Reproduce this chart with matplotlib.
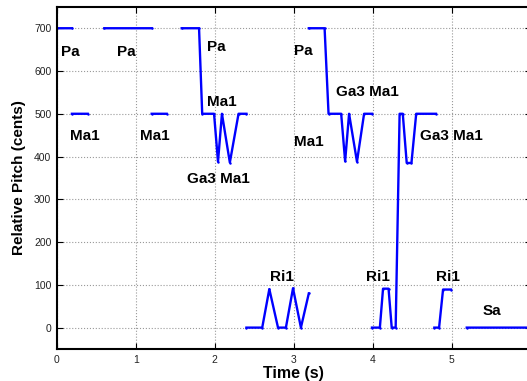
#!/usr/bin/env python3
"""Relative pitch contour with svara labels."""

import matplotlib
matplotlib.use("Agg")
import matplotlib.pyplot as plt
import numpy as np

plt.rcParams["font.family"] = ["Liberation Sans", "DejaVu Sans"]

# pitch contour segments (time in s, pitch in cents)
seg_t = [
    [0.00, 0.19],
    [0.19, 0.39],
    [0.60, 1.20],
    [1.20, 1.39],
    [1.58, 1.80, 1.84, 1.99, 2.04, 2.09, 2.19, 2.30, 2.40],
    [2.40, 2.60, 2.69, 2.80, 2.90, 2.99, 3.09, 3.19],
    [3.19, 3.39, 3.44, 3.60, 3.65, 3.70, 3.80, 3.89, 3.99],
    [3.99, 4.09, 4.13, 4.20, 4.24, 4.29, 4.34, 4.38, 4.43, 4.49, 4.55, 4.80],
    [4.78, 4.84, 4.89, 4.99],
    [5.19, 6.00],
]
seg_p = [
    [700, 700],
    [500, 500],
    [700, 700],
    [500, 500],
    [700, 700, 500, 500, 388, 500, 386, 500, 500],
    [0, 0, 90, 0, 0, 92, 0, 80],
    [700, 700, 500, 500, 389, 500, 388, 500, 500],
    [0, 0, 91, 91, 0, 0, 500, 500, 385, 385, 500, 500],
    [0, 0, 89, 89],
    [0, 0],
]

label_text = ["Pa", "Pa", "Pa", "Ma1", "Ma1", "Ma1", "Ga3 Ma1",
              "Pa", "Ga3 Ma1", "Ma1", "Ga3 Ma1",
              "Ri1", "Ri1", "Ri1", "Sa"]
label_t = [0.05, 0.76, 1.90, 1.90, 0.16, 1.05, 1.65,
           3.00, 3.53, 3.00, 4.60,
           2.70, 3.91, 4.80, 5.39]
label_p = [644, 644, 656, 528, 448, 448, 347,
           647, 551, 434, 448,
           119, 118, 118, 39]

x_ticks = [0, 1, 2, 3, 4, 5]
y_ticks = [0, 100, 200, 300, 400, 500, 600, 700]

fig = plt.figure(figsize=(5.27, 3.81), dpi=100)
ax = fig.add_axes([0.108, 0.084, 0.899, 0.898])

t = []
p = []
for ts, ps in zip(seg_t, seg_p):
    t.extend(ts + [np.nan])
    p.extend(ps + [np.nan])
ax.plot(t, p, color="#0000ff", linewidth=1.7, marker=".", markersize=1.5)

for txt, tx, py in zip(label_text, label_t, label_p):
    ax.text(tx, py, txt, fontsize=11, fontweight="bold", ha="left", va="center")

ax.set_xlim(0, 6)
ax.set_ylim(-50, 750)
ax.set_xticks(x_ticks)
ax.set_yticks(y_ticks)
ax.tick_params(direction="in", length=4, width=0.8, top=True, right=True,
               labelsize=7.5, labelcolor="#222222", pad=4)
ax.grid(True, color="#999999", linestyle=":", linewidth=0.8)
for sp in ax.spines.values():
    sp.set_linewidth(1.5)

ax.set_xlabel("Time (s)", fontsize=11.5, fontweight="bold", labelpad=1)
ax.set_ylabel("Relative Pitch (cents)", fontsize=11, fontweight="bold", labelpad=6)

fig.savefig("out.png", dpi=100)
